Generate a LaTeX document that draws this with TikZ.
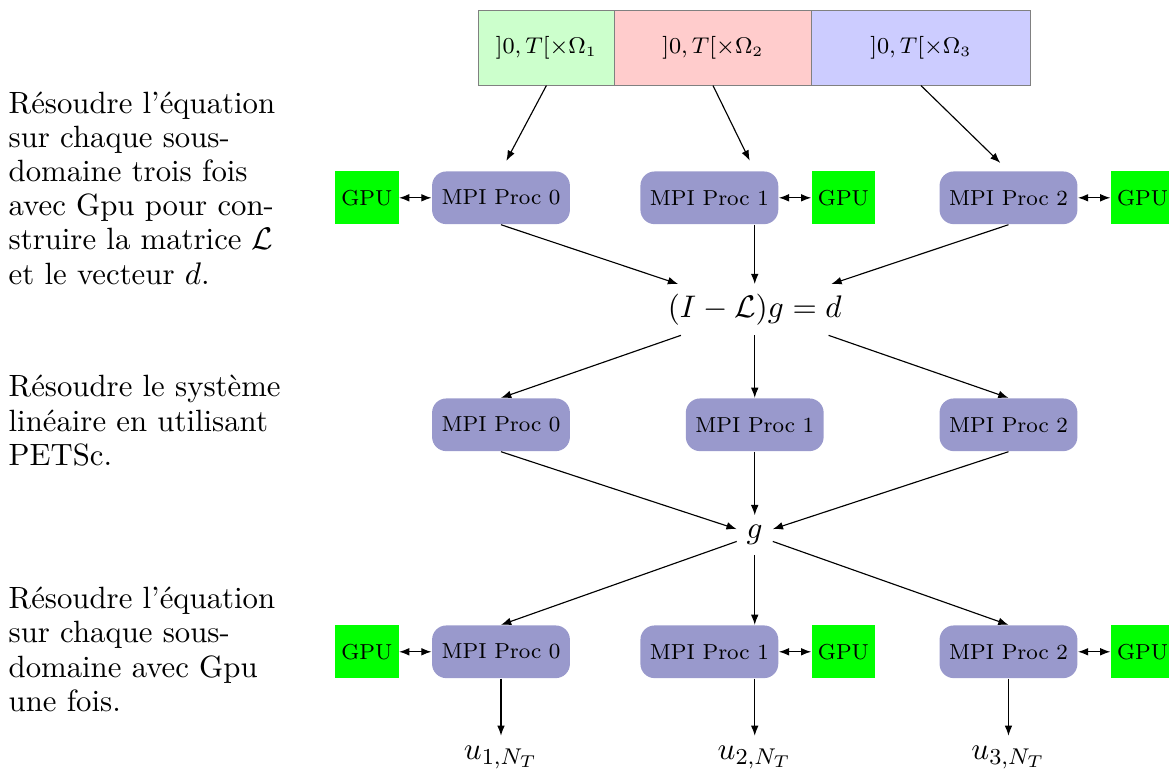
\documentclass[tikz,border=0pt]{standalone}
\usepackage{tikz}
\usetikzlibrary{arrows.meta, positioning}
\definecolor{ProcBlue}{RGB}{153,153,204}
\definecolor{GpuGreen}{RGB}{0,255,0}

\begin{document}
\begin{tikzpicture}[
    proc/.style={fill=ProcBlue, rounded corners=5pt, minimum width=1.69cm,
        minimum height=0.65cm, font=\fontsize{7.6}{9}\selectfont},
    gpu/.style={fill=GpuGreen, minimum width=0.78cm, minimum height=0.65cm,
        inner xsep=2pt, font=\fontsize{7.6}{9}\selectfont},
    sousdom/.style={draw=gray, outer sep=0pt, minimum height=0.93cm,
        font=\fontsize{7.8}{9}\selectfont},
    eqn/.style={font=\fontsize{11.2}{13}\selectfont},
    etape/.style={anchor=west, text width=3.4cm, align=left, inner sep=0pt,
        font=\fontsize{10.8}{12}\selectfont},
    flow/.style={-{Latex[length=3.6pt]}},
    link/.style={{Latex[length=3.6pt]}-{Latex[length=3.6pt]}},
]
\useasboundingbox (0,0) rectangle (14.42,-9.61);

% sous-domaines
\node[sousdom, fill=green!20, minimum width=1.68cm] (dom1) at (6.74,-0.59)
    {$]0,T[\times\Omega_1$};
\node[sousdom, fill=red!20, minimum width=2.43cm, right=0pt of dom1] (dom2)
    {$]0,T[\times\Omega_2$};
\node[sousdom, fill=blue!20, minimum width=2.70cm, right=0pt of dom2] (dom3)
    {$]0,T[\times\Omega_3$};

% premiere etape
\node[proc] (procA) at (6.18,-2.44) {MPI Proc 0};
\node[proc] (procB) at (8.75,-2.44) {MPI Proc 1};
\node[proc] (procC) at (12.44,-2.44) {MPI Proc 2};
\node[gpu, left=0.4cm of procA] (gpuA) {GPU};
\node[gpu, right=0.4cm of procB] (gpuB) {GPU};
\node[gpu, right=0.4cm of procC] (gpuC) {GPU};

\node[eqn] (sys) at (9.31,-3.82) {$(I-\mathcal{L})g=d$};

% deuxieme etape
\node[proc] (procD) at (6.18,-5.24) {MPI Proc 0};
\node[proc] (procE) at (9.31,-5.24) {MPI Proc 1};
\node[proc] (procF) at (12.44,-5.24) {MPI Proc 2};

\node[eqn] (g) at (9.31,-6.60) {$g$};

% troisieme etape
\node[proc] (procG) at (6.18,-8.04) {MPI Proc 0};
\node[proc] (procH) at (8.75,-8.04) {MPI Proc 1};
\node[proc] (procI) at (12.44,-8.04) {MPI Proc 2};
\node[gpu, left=0.4cm of procG] (gpuG) {GPU};
\node[gpu, right=0.4cm of procH] (gpuH) {GPU};
\node[gpu, right=0.4cm of procI] (gpuI) {GPU};

\node[eqn] (u1) at (6.18,-9.34) {$u_{1,N_T}$};
\node[eqn] (u2) at (9.31,-9.34) {$u_{2,N_T}$};
\node[eqn] (u3) at (12.44,-9.34) {$u_{3,N_T}$};

% fleches
\draw[flow, shorten >=4pt] (dom1.south) -- (procA.north);
\draw[flow, shorten >=4pt] (dom2.south) -- (procB.north -| sys);
\draw[flow, shorten >=4pt] (dom3.south) -- (procC.north);
\draw[link] (gpuA) -- (procA);
\draw[link] (procB) -- (gpuB);
\draw[link] (procC) -- (gpuC);

\draw[flow] (procA.south) -- (sys);
\draw[flow] (procB.south -| sys) -- (sys);
\draw[flow] (procC.south) -- (sys);
\draw[flow] (sys) -- (procD.north);
\draw[flow] (sys) -- (procE);
\draw[flow] (sys) -- (procF.north);

\draw[flow] (procD.south) -- (g);
\draw[flow] (procE) -- (g);
\draw[flow] (procF.south) -- (g);
\draw[flow] (g) -- (procG.north);
\draw[flow] (g) -- (procH.north -| g);
\draw[flow] (g) -- (procI.north);

\draw[link] (gpuG) -- (procG);
\draw[link] (procH) -- (gpuH);
\draw[link] (procI) -- (gpuI);
\draw[flow] (procG) -- (u1);
\draw[flow] (procH.south -| g) -- (u2);
\draw[flow] (procI) -- (u3);

% texte explicatif
\node[etape] (txt1) at (0.1,-2.32) {Résoudre l'équation\\ sur chaque sous-\\
    domaine trois fois\\ avec Gpu pour con-\\ struire la matrice $\mathcal{L}$\\
    et le vecteur $d$.};
\node[etape] (txt2) at (0.1,-5.19) {Résoudre le système\\ linéaire en utilisant\\
    PETSc.};
\node[etape] (txt3) at (0.1,-8.01) {Résoudre l'équation\\ sur chaque sous-\\
    domaine avec Gpu\\ une fois.};

\end{tikzpicture}
\end{document}
